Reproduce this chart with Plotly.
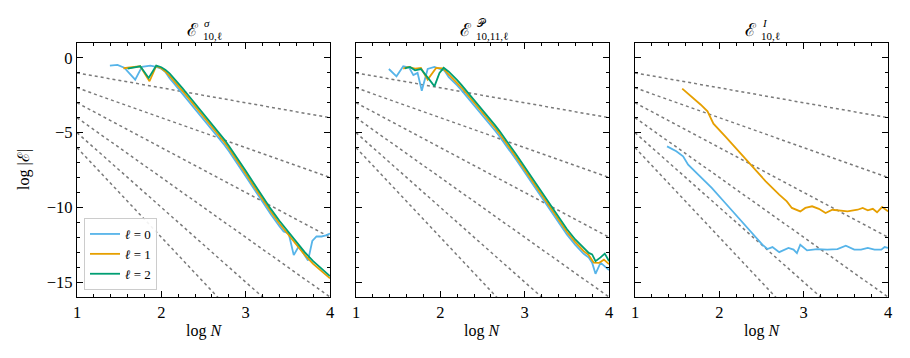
import plotly.graph_objects as go

# ---- data (log10 N, log10 |error|) ----
# panel 1: E^sigma_{10,l}
sig_x0 = [1.39, 1.48, 1.56, 1.69, 1.77, 1.87, 1.94, 2.00, 2.05, 2.10, 2.15, 2.20, 2.25, 2.30, 2.35, 2.40,
          2.45, 2.50, 2.55, 2.60, 2.65, 2.70, 2.75, 2.80, 2.85, 2.90, 2.95, 3.00, 3.10, 3.20, 3.30, 3.40,
          3.45, 3.51, 3.57, 3.63, 3.68, 3.74, 3.79, 3.84, 3.90, 3.95, 4.00]
sig_y0 = [-0.51, -0.47, -0.65, -1.45, -0.60, -0.51, -0.60, -0.72, -0.95, -1.38, -1.70, -2.04, -2.38, -2.72,
          -3.06, -3.40, -3.74, -4.08, -4.42, -4.76, -5.11, -5.47, -5.84, -6.23, -6.64, -7.06, -7.48, -7.91,
          -8.78, -9.64, -10.48, -11.26, -11.62, -11.75, -13.20, -12.60, -13.00, -13.55, -12.25, -11.95,
          -11.95, -11.88, -11.75]
sig_x1 = [1.55, 1.62, 1.69, 1.75, 1.86, 1.94, 2.00, 2.05, 2.10, 2.15, 2.20, 2.25, 2.30, 2.35, 2.40, 2.45,
          2.50, 2.55, 2.60, 2.65, 2.70, 2.75, 2.80, 2.85, 2.90, 2.95, 3.00, 3.10, 3.20, 3.30, 3.40, 3.50,
          3.60, 3.70, 3.80, 3.90, 3.95, 4.00]
sig_y1 = [-0.69, -0.65, -0.60, -0.56, -1.56, -0.53, -0.70, -0.92, -1.22, -1.53, -1.86, -2.20, -2.54, -2.88,
          -3.22, -3.56, -3.90, -4.24, -4.58, -4.93, -5.29, -5.66, -6.05, -6.46, -6.88, -7.30, -7.73, -8.60,
          -9.46, -10.30, -11.08, -11.78, -12.53, -13.18, -13.78, -14.25, -14.45, -14.75]
sig_x2 = [1.60, 1.69, 1.75, 1.85, 1.94, 2.00, 2.05, 2.10, 2.15, 2.20, 2.25, 2.30, 2.35, 2.40, 2.45, 2.50,
          2.55, 2.60, 2.65, 2.70, 2.75, 2.80, 2.85, 2.90, 2.95, 3.00, 3.10, 3.20, 3.30, 3.40, 3.50, 3.60,
          3.70, 3.80, 3.90, 3.95, 4.00]
sig_y2 = [-0.72, -0.62, -0.56, -1.34, -0.51, -0.62, -0.80, -1.05, -1.35, -1.68, -2.02, -2.36, -2.70, -3.04,
          -3.38, -3.72, -4.06, -4.40, -4.75, -5.11, -5.48, -5.87, -6.28, -6.70, -7.12, -7.55, -8.42, -9.28,
          -10.12, -10.90, -11.60, -12.35, -13.00, -13.60, -14.10, -14.30, -14.60]

# panel 2: E^P_{10,11,l}
pot_x0 = [1.39, 1.48, 1.56, 1.63, 1.68, 1.73, 1.78, 1.85, 1.93, 2.00, 2.05, 2.10, 2.15, 2.20, 2.25, 2.30,
          2.35, 2.40, 2.45, 2.50, 2.55, 2.60, 2.65, 2.70, 2.75, 2.80, 2.85, 2.90, 2.95, 3.00, 3.10, 3.20,
          3.30, 3.40, 3.50, 3.60, 3.70, 3.76, 3.80, 3.84, 3.90, 3.95, 4.00]
pot_y0 = [-0.74, -1.23, -0.56, -0.65, -1.15, -1.00, -2.20, -0.74, -0.60, -0.72, -0.85, -1.28, -1.54, -1.84,
          -2.16, -2.49, -2.82, -3.16, -3.50, -3.84, -4.18, -4.52, -4.87, -5.24, -5.62, -6.01, -6.41, -6.82,
          -7.24, -7.66, -8.51, -9.36, -10.18, -11.01, -11.81, -12.51, -13.11, -13.35, -13.70, -14.45,
          -13.70, -13.95, -14.20]
pot_x1 = [1.56, 1.62, 1.70, 1.77, 1.85, 1.95, 2.03, 2.10, 2.15, 2.20, 2.25, 2.30, 2.35, 2.40, 2.45, 2.50,
          2.55, 2.60, 2.65, 2.70, 2.75, 2.80, 2.85, 2.90, 2.95, 3.00, 3.10, 3.20, 3.30, 3.40, 3.50, 3.60,
          3.70, 3.76, 3.82, 3.88, 3.94, 4.00]
pot_y1 = [-0.71, -0.60, -0.72, -0.67, -1.45, -0.67, -0.70, -1.10, -1.36, -1.66, -1.98, -2.31, -2.64, -2.98,
          -3.32, -3.66, -4.00, -4.34, -4.69, -5.06, -5.44, -5.83, -6.23, -6.64, -7.06, -7.48, -8.33, -9.18,
          -10.00, -10.83, -11.63, -12.33, -12.93, -13.20, -13.70, -13.72, -13.50, -13.80]
pot_x2 = [1.58, 1.64, 1.70, 1.77, 1.87, 1.93, 1.99, 2.04, 2.10, 2.15, 2.20, 2.25, 2.30, 2.35, 2.40, 2.45,
          2.50, 2.55, 2.60, 2.65, 2.70, 2.75, 2.80, 2.85, 2.90, 2.95, 3.00, 3.10, 3.20, 3.30, 3.40, 3.50,
          3.60, 3.70, 3.76, 3.80, 3.84, 3.90, 3.95, 4.00]
pot_y2 = [-0.70, -0.60, -0.83, -0.74, -1.45, -1.90, -1.00, -0.66, -0.92, -1.18, -1.48, -1.80, -2.13, -2.46,
          -2.80, -3.14, -3.48, -3.82, -4.16, -4.51, -4.88, -5.26, -5.65, -6.05, -6.46, -6.88, -7.30, -8.15,
          -9.00, -9.82, -10.65, -11.45, -12.15, -12.75, -13.05, -13.15, -13.60, -13.35, -13.10, -13.60]

# panel 3: E^I_{10,l} (no l=2 curve)
int_x0 = [1.38, 1.49, 1.57, 1.63, 1.75, 1.91, 2.07, 2.23, 2.39, 2.51, 2.57, 2.63, 2.71, 2.82, 2.88, 2.92,
          2.96, 3.04, 3.16, 3.28, 3.40, 3.50, 3.60, 3.68, 3.76, 3.84, 3.92, 3.96, 4.00]
int_y0 = [-5.92, -6.25, -6.58, -7.14, -7.81, -8.70, -9.71, -10.71, -11.72, -12.50, -12.79, -12.66, -13.00,
          -12.72, -12.83, -13.06, -12.50, -12.88, -12.79, -12.83, -12.79, -12.57, -12.83, -12.83, -12.72,
          -12.83, -12.83, -12.66, -12.72]
int_x1 = [1.56, 1.67, 1.78, 1.86, 1.93, 2.07, 2.23, 2.39, 2.55, 2.71, 2.80, 2.86, 2.96, 3.02, 3.10, 3.18,
          3.26, 3.34, 3.44, 3.52, 3.64, 3.70, 3.76, 3.82, 3.87, 3.93, 4.00]
int_y1 = [-2.05, -2.57, -3.13, -3.57, -4.40, -5.25, -6.25, -7.25, -8.26, -9.15, -9.60, -10.04, -10.27,
          -10.04, -9.93, -10.10, -10.38, -10.16, -10.20, -10.27, -10.16, -10.04, -10.20, -10.10, -10.33,
          -9.98, -10.27]

# reference slopes  log|E| = -k log N
ref_orders = [1, 2, 3, 4, 5, 6]
ref_x = [1, 4]

labels = ["<i>ℓ</i> = 0", "<i>ℓ</i> = 1", "<i>ℓ</i> = 2"]
colors = ["#56B4E9", "#E69F00", "#009E73"]

panels = [
    [(sig_x0, sig_y0), (sig_x1, sig_y1), (sig_x2, sig_y2)],
    [(pot_x0, pot_y0), (pot_x1, pot_y1), (pot_x2, pot_y2)],
    [(int_x0, int_y0), (int_x1, int_y1)],
]
titles = [("<i>σ</i>", "10,ℓ"), ("𝒫", "10,11,ℓ"), ("<i>I</i>", "10,ℓ")]

# the page body has an 8px margin, so the figure is a bit smaller and everything is shifted
OFF = 8
W, H = 910 - OFF, 358 - OFF


def fx(px):
    return (px - OFF) / W


def fy(py):
    return 1 - (py - OFF) / H


x_dom = [(77, 330), (356, 609), (635, 888)]
y_top, y_bot = 43, 297
FONT = "Liberation Serif, DejaVu Serif, serif"
SCRIPT = "DejaVu Serif, serif"

fig = go.Figure()

for p, series in enumerate(panels):
    xa = "x" if p == 0 else "x%d" % (p + 1)
    ya = "y" if p == 0 else "y%d" % (p + 1)
    for k in ref_orders:
        fig.add_trace(go.Scatter(x=ref_x, y=[-k * v for v in ref_x], mode="lines",
                                 line=dict(color="#7a7a7a", width=1.5, dash="dot"),
                                 showlegend=False, hoverinfo="skip", xaxis=xa, yaxis=ya))
    for l, (xs, ys) in enumerate(series):
        fig.add_trace(go.Scatter(x=xs, y=ys, mode="lines", name=labels[l],
                                 line=dict(color=colors[l], width=1.8),
                                 showlegend=(p == 0), xaxis=xa, yaxis=ya))

axis_common = dict(showline=True, linecolor="black", linewidth=1.3, mirror="allticks",
                   ticks="inside", ticklen=6, tickwidth=1.1, tickcolor="black",
                   showgrid=False, zeroline=False, automargin=False,
                   tickfont=dict(family=FONT, size=16.5, color="black"))

layout = dict(width=W, height=H, margin=dict(l=0, r=0, t=0, b=0),
              paper_bgcolor="white", plot_bgcolor="white",
              font=dict(family=FONT, size=15, color="black"),
              legend=dict(x=fx(84), y=fy(290), xanchor="left", yanchor="bottom",
                          bgcolor="rgba(255,255,255,0.9)", bordercolor="#cccccc", borderwidth=1,
                          font=dict(family=FONT, size=13), tracegroupgap=0, itemwidth=30),
              annotations=[])

for p in range(3):
    sx = "" if p == 0 else str(p + 1)
    x0, x1 = x_dom[p]
    layout["xaxis" + sx] = dict(axis_common, domain=[fx(x0), fx(x1)], range=[1, 4], dtick=1,
                                anchor="y" + sx,
                                minor=dict(ticks="inside", dtick=0.2, ticklen=3, tickcolor="black"))
    layout["yaxis" + sx] = dict(axis_common, domain=[fy(y_bot), fy(y_top)], range=[-16, 1],
                                tickvals=[0, -5, -10, -15], anchor="x" + sx,
                                showticklabels=(p == 0),
                                minor=dict(ticks="inside", dtick=1, ticklen=3, tickcolor="black"))

ann = []
for p in range(3):
    x0, x1 = x_dom[p]
    c = (x0 + x1) / 2
    sup, sub = titles[p]
    off = 3 if p != 1 else 9
    ann.append(dict(text="ℰ", x=fx(c - off), y=fy(30), xref="paper", yref="paper",
                    xanchor="right", yanchor="middle", showarrow=False,
                    font=dict(family=SCRIPT, size=18)))
    ann.append(dict(text=sup, x=fx(c - off + 1), y=fy(23), xref="paper", yref="paper",
                    xanchor="left", yanchor="middle", showarrow=False,
                    font=dict(family=FONT, size=11)))
    ann.append(dict(text=sub, x=fx(c - off), y=fy(36), xref="paper", yref="paper",
                    xanchor="left", yanchor="middle", showarrow=False,
                    font=dict(family=FONT, size=11)))
    ann.append(dict(text="log <i>N</i>", x=fx(c), y=fy(331), xref="paper", yref="paper",
                    xanchor="center", yanchor="middle", showarrow=False,
                    font=dict(family=FONT, size=16)))
ann.append(dict(text="log |ℰ|", x=fx(24), y=fy(170), xref="paper", yref="paper",
                xanchor="center", yanchor="middle", textangle=-90, showarrow=False,
                font=dict(family=FONT, size=16)))
layout["annotations"] = ann

fig.update_layout(layout)
fig.write_html("out.html")
